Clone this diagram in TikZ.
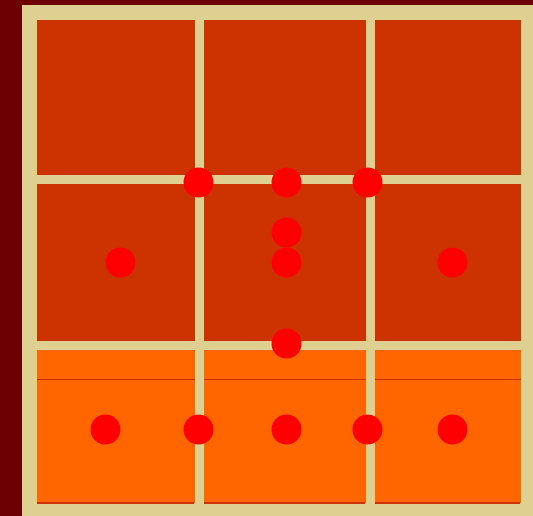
\documentclass[tikz,border=0pt]{standalone}
\definecolor{bgred}{RGB}{108,0,0}
\definecolor{frame}{RGB}{222,208,144}
\definecolor{cellred}{RGB}{204,51,0}
\definecolor{cellorange}{RGB}{255,102,0}
\definecolor{dot}{RGB}{255,0,0}
\tikzset{
  dotnode/.style={circle,fill=dot,draw=none,minimum size=30pt,inner sep=0pt},
  redcell/.style={fill=cellred,draw=none},
  orangecell/.style={fill=cellorange,draw=none},
  seam/.style={draw=cellred,line width=1pt}
}
\begin{document}
\begin{tikzpicture}[x=1pt,y=-1pt]
\useasboundingbox (0,0) rectangle (533,516);
\fill[bgred] (0,0) rectangle (533,516);
\fill[frame] (22,5) rectangle (533,516);
% rows
\foreach \xa/\xb in {37/195,204/366,375/521}{
  \fill[redcell] (\xa,20) rectangle (\xb,175);
  \fill[redcell] (\xa,184) rectangle (\xb,341);
  \fill[orangecell] (\xa,350) rectangle (\xb,503);
  \draw[seam] (\xa,379) -- (\xb,379);
  \draw[seam,line width=1.5pt] (\xa,503) -- (\xb-1,503);
}
% dots
\node[dotnode] (d1) at (198.5,182.5) {};
\node[dotnode] (d2) at (286.5,182.5) {};
\node[dotnode] (d3) at (367.5,182.5) {};
\node[dotnode] (d4) at (286.5,232.5) {};
\node[dotnode] (d5) at (120.5,262.5) {};
\node[dotnode] (d6) at (286.5,262.5) {};
\node[dotnode] (d7) at (452.5,262.5) {};
\node[dotnode] (d8) at (286.5,343.5) {};
\node[dotnode] (d9) at (105.5,429.5) {};
\node[dotnode] (d10) at (198.5,429.5) {};
\node[dotnode] (d11) at (286.5,429.5) {};
\node[dotnode] (d12) at (367.5,429.5) {};
\node[dotnode] (d13) at (452.5,429.5) {};
\end{tikzpicture}
\end{document}
